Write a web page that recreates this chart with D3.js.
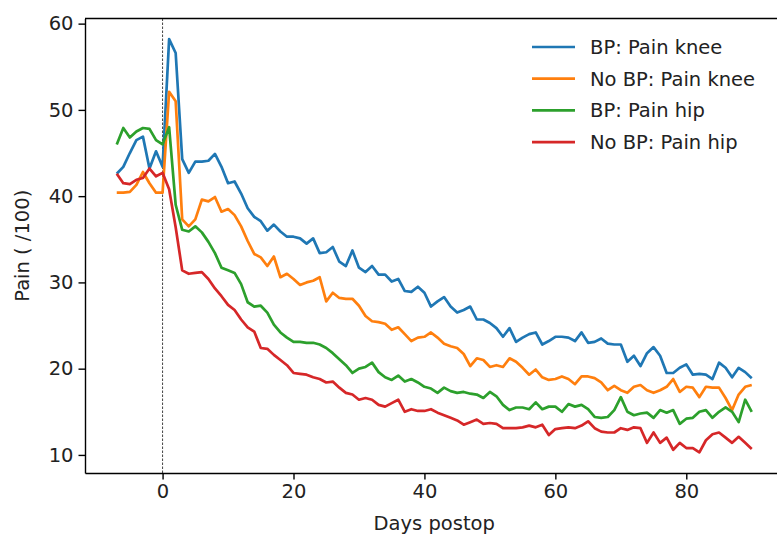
<!DOCTYPE html>
<html lang="en">

<head>
    <meta charset="UTF-8">
    <title>Pain postop</title>
    <script src="https://cdn.jsdelivr.net/npm/d3@7"></script>
    <style>
        body { margin: 0; background: #fff; }
        text { font-family: "DejaVu Sans", sans-serif; }
    </style>
</head>

<body>
    <div id="container"></div>

    <script>
        const width = 777;
        const height = 536;

        // days -7 .. 90
        const days = d3.range(-7, 91);
        const xTicks = [0, 20, 40, 60, 80];
        const yTicks = [10, 20, 30, 40, 50, 60];

        const bpKnee = [42.6, 43.4, 45, 46.5, 46.9, 43.2, 45.2, 43.4, 58.2, 56.6,
            44.3, 42.7, 44, 44, 44.1, 44.9, 43.4, 41.5, 41.7, 40.3,
            38.6, 37.6, 37.1, 36, 36.7, 35.9, 35.3, 35.3, 35.1, 34.5,
            35.1, 33.4, 33.5, 34.1, 32.4, 31.9, 33.7, 31.7, 31.2, 31.9,
            30.9, 30.9, 30.1, 30.4, 29, 28.9, 29.5, 28.8, 27.2, 27.8,
            28.3, 27.2, 26.5, 26.8, 27.2, 25.7, 25.7, 25.3, 24.7, 23.7,
            24.7, 23.1, 23.6, 24, 24.2, 22.8, 23.2, 23.7, 23.7, 23.6,
            23.2, 24.2, 23, 23.1, 23.5, 22.9, 22.8, 22.8, 20.8, 21.5,
            20.3, 21.8, 22.5, 21.5, 19.5, 19.5, 20.1, 20.5, 19.3, 19.4,
            19.3, 18.8, 20.7, 20.1, 19, 20.1, 19.6, 18.9];

        const noBpKnee = [40.4, 40.4, 40.5, 41.3, 42.8, 41.5, 40.4, 40.4, 52.1, 51,
            37.3, 36.5, 37.3, 39.6, 39.4, 39.9, 38.2, 38.5, 37.8, 36.5,
            34.8, 33.3, 32.9, 31.9, 33, 30.6, 31, 30.4, 29.7, 30,
            30.2, 30.6, 27.8, 28.8, 28.2, 28.1, 28.1, 27.3, 26.1, 25.5,
            25.4, 25.2, 24.5, 24.8, 24, 23.2, 23.6, 23.7, 24.2, 23.6,
            22.9, 22.6, 22.4, 21.7, 20.3, 21.2, 21, 20.2, 20.4, 20.2,
            21.2, 20.8, 20.1, 19.3, 19.9, 19, 18.7, 18.8, 19.1, 18.8,
            18.2, 19.1, 19.1, 18.9, 18.4, 17.5, 18, 17.5, 17.2, 17.9,
            18.1, 17.5, 17.2, 17.5, 17.9, 18.8, 17.3, 17.9, 17.8, 16.7,
            17.9, 17.8, 17.8, 16.6, 15.2, 17, 17.9, 18.1];

        const bpHip = [46, 47.9, 46.8, 47.5, 47.9, 47.8, 46.5, 46, 48, 39,
            36.1, 35.9, 36.5, 35.8, 34.7, 33.4, 31.7, 31.4, 31.1, 29.8,
            27.7, 27.2, 27.3, 26.5, 25.1, 24.2, 23.6, 23.1, 23.1, 23,
            23, 22.8, 22.4, 21.8, 21.1, 20.4, 19.5, 20, 20.2, 20.7,
            19.6, 19, 18.7, 19.2, 18.5, 18.8, 18.4, 17.9, 17.7, 17.2,
            17.8, 17.4, 17.2, 17.3, 17.1, 17, 16.6, 17.3, 16.8, 15.8,
            15.2, 15.5, 15.5, 15.3, 16.1, 15.3, 15.6, 15.6, 15, 15.9,
            15.6, 15.8, 15.3, 14.4, 14.3, 14.4, 15.2, 16.7, 15, 14.6,
            14.8, 14.9, 14.3, 15.2, 14.9, 15.2, 13.6, 14.2, 14.3, 15,
            15.2, 14.3, 15, 15.5, 15, 13.8, 16.4, 15];

        const noBpHip = [42.6, 41.5, 41.4, 41.9, 42.1, 43.2, 42.3, 42.7, 40.8, 36.4,
            31.4, 31, 31.1, 31.2, 30.4, 29.3, 28.4, 27.4, 26.8, 25.7,
            24.8, 24.3, 22.4, 22.3, 21.6, 21, 20.4, 19.5, 19.4, 19.3,
            19, 18.8, 18.4, 18.5, 17.8, 17.2, 17, 16.4, 16.6, 16.4,
            15.8, 15.6, 16, 16.4, 15, 15.3, 15.1, 15.1, 15.3, 14.9,
            14.6, 14.3, 14, 13.5, 13.8, 14.1, 13.6, 13.7, 13.6, 13.1,
            13.1, 13.1, 13.2, 13.4, 13.2, 13.5, 12.3, 13, 13.1, 13.2,
            13.1, 13.4, 13.9, 13.1, 12.7, 12.6, 12.6, 13.1, 12.9, 13.2,
            13.1, 11.4, 12.6, 11.4, 12, 10.6, 11.4, 10.8, 10.8, 10.3,
            11.7, 12.4, 12.6, 12, 11.4, 12.1, 11.4, 10.7];

        const seriesNames = ['BP: Pain knee', 'No BP: Pain knee', 'BP: Pain hip', 'No BP: Pain hip'];
        const seriesValues = [bpKnee, noBpKnee, bpHip, noBpHip];
        const colors = ['#1f77b4', '#ff7f0e', '#2ca02c', '#d62728'];

        const margin = { top: 18.5, left: 85, right: 783.5, bottom: 473 };
        const fontSize = '19.5px';

        // matplotlib style 5% margins
        const xPad = (d3.max(days) - d3.min(days)) * 0.05;
        const allVals = seriesValues.flat();
        const yMin = d3.min(allVals), yMax = d3.max(allVals);
        const yPad = (yMax - yMin) * 0.05;

        const x = d3.scaleLinear().domain([d3.min(days) - xPad, d3.max(days) + xPad]).range([margin.left, margin.right]);
        const y = d3.scaleLinear().domain([yMin - yPad, yMax + yPad]).range([margin.bottom, margin.top]);

        const svg = d3.select('#container').append('svg')
            .attr('width', width)
            .attr('height', height);

        const chart = svg.append('g');

        // vertical dashed line at day 0
        chart.append('line')
            .attr('x1', x(0)).attr('x2', x(0))
            .attr('y1', margin.top).attr('y2', margin.bottom)
            .attr('stroke', '#444')
            .attr('stroke-width', 1)
            .attr('stroke-dasharray', '2.5,1.5');

        const line = d3.line()
            .x((d, i) => x(days[i]))
            .y(d => y(d));

        seriesValues.forEach((vals, k) => {
            chart.append('path')
                .datum(vals)
                .attr('fill', 'none')
                .attr('stroke', colors[k])
                .attr('stroke-width', 2.7)
                .attr('stroke-linejoin', 'round')
                .attr('d', line);
        });

        // axes
        const gx = chart.append('g')
            .attr('transform', `translate(0, ${margin.bottom})`)
            .call(d3.axisBottom(x).tickValues(xTicks).tickSize(6.5).tickPadding(5).tickSizeOuter(0));
        const gy = chart.append('g')
            .attr('transform', `translate(${margin.left}, 0)`)
            .call(d3.axisLeft(y).tickValues(yTicks).tickSize(6.5).tickPadding(5).tickSizeOuter(0));

        [gx, gy].forEach(g => {
            g.selectAll('.domain').attr('stroke', '#000').attr('stroke-width', 1.4);
            g.selectAll('.tick line').attr('stroke', '#000').attr('stroke-width', 1.4);
            g.selectAll('.tick text').attr('fill', '#222').style('font-size', fontSize);
        });

        // top spine
        chart.append('line')
            .attr('x1', margin.left).attr('x2', margin.right)
            .attr('y1', margin.top).attr('y2', margin.top)
            .attr('stroke', '#000').attr('stroke-width', 1.4);

        // axis labels
        svg.append('text')
            .attr('x', (margin.left + margin.right) / 2)
            .attr('y', 530)
            .attr('text-anchor', 'middle')
            .attr('fill', '#222')
            .style('font-size', fontSize)
            .text('Days postop');

        svg.append('text')
            .attr('transform', `translate(29, ${(margin.top + margin.bottom) / 2}) rotate(-90)`)
            .attr('text-anchor', 'middle')
            .attr('fill', '#222')
            .style('font-size', fontSize)
            .text('Pain ( /100)');

        // legend
        const legend = svg.append('g').attr('transform', 'translate(532, 47)');
        seriesNames.forEach((name, k) => {
            const row = legend.append('g').attr('transform', `translate(0, ${k * 31.7})`);
            row.append('line')
                .attr('x1', 0).attr('x2', 43)
                .attr('stroke', colors[k])
                .attr('stroke-width', 2.7);
            row.append('text')
                .attr('x', 58)
                .attr('dy', '0.35em')
                .attr('fill', '#222')
                .style('font-size', fontSize)
                .text(name);
        });
    </script>
</body>

</html>
